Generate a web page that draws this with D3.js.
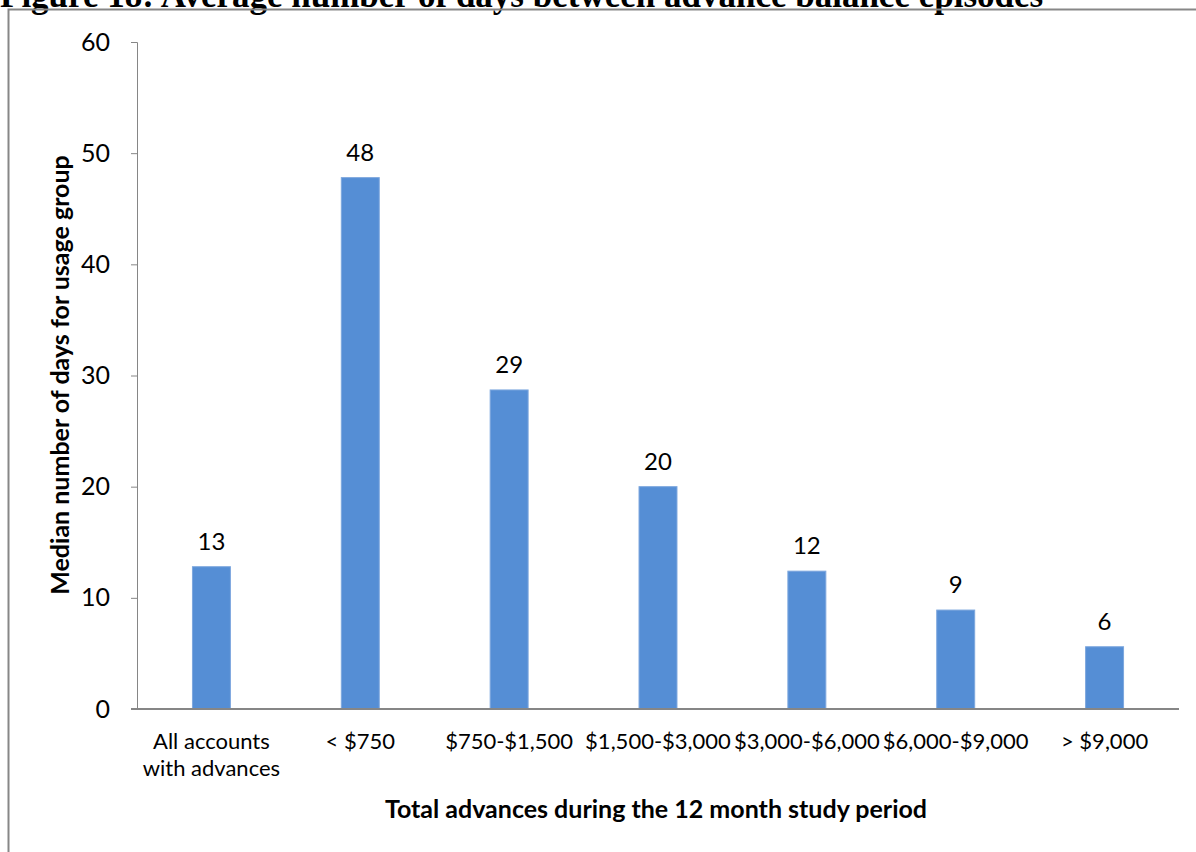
<!DOCTYPE html>
<html lang="en">
<head>
<meta charset="UTF-8">
<title>Figure 18</title>
<script src="https://d3js.org/d3.v7.min.js"></script>
<style>
    body { margin: 0; background: #fff; }
    svg { display: block; font-family: Lato, "Open Sans", sans-serif; }
    .axis path, .axis line { stroke: #868686; }
</style>
</head>
<body>
<svg id="chart" width="1196" height="852"></svg>
<script>
// data
const categories = [["All accounts", "with advances"], ["< $750"], ["$750-$1,500"], ["$1,500-$3,000"],
                    ["$3,000-$6,000"], ["$6,000-$9,000"], ["> $9,000"]];
const medianDays = [12.8, 47.8, 28.7, 20.0, 12.4, 8.9, 5.6];
const yTicks = [0, 10, 20, 30, 40, 50, 60];

const svg = d3.select("#chart");

// title, clipped by the top of the page (as in the source scan)
svg.append("text")
    .attr("x", 0).attr("y", 7)
    .style("font-family", "'Liberation Serif', serif")
    .style("font-weight", "bold").style("font-size", "35px")
    .text("Figure 18: Average number of days between advance balance episodes");

// outer frame
svg.append("path")
    .attr("d", "M8.5,852 V9.5 H1196")
    .attr("fill", "none").attr("stroke", "#878787").attr("stroke-width", 2);

const margin = { left: 137, top: 42, right: 1179, bottom: 709 };

const x = d3.scaleBand()
    .domain(d3.range(categories.length))
    .range([margin.left, margin.right])
    .paddingInner(0.745)
    .paddingOuter(0.3725);

const y = d3.scaleLinear()
    .domain([0, 60])
    .range([margin.bottom, margin.top]);

// y axis
const yAxis = svg.append("g").attr("class", "axis")
    .attr("transform", `translate(${margin.left},0)`)
    .call(d3.axisLeft(y).tickValues(yTicks).tickSize(6).tickSizeOuter(6).tickPadding(21));
yAxis.selectAll("text").style("font-size", "25px").attr("fill", "#000")
    .style("font-family", "Lato, sans-serif");

// bars
svg.selectAll(".bar")
    .data(medianDays)
    .join("rect")
    .attr("class", "bar")
    .attr("x", (d, i) => x(i))
    .attr("y", d => y(d))
    .attr("width", x.bandwidth())
    .attr("height", d => y(0) - y(d))
    .attr("fill", "#558ED5")
    .attr("stroke", "#7DA7DE").attr("stroke-width", 1);

// x axis line
svg.append("line")
    .attr("x1", margin.left - 6).attr("x2", margin.right)
    .attr("y1", y(0)).attr("y2", y(0))
    .attr("stroke", "#868686").attr("stroke-width", 2);

// value labels
svg.selectAll(".val")
    .data(medianDays)
    .join("text")
    .attr("class", "val")
    .attr("x", (d, i) => x(i) + x.bandwidth() / 2)
    .attr("y", d => y(d) - 17)
    .attr("text-anchor", "middle")
    .style("font-size", "24px")
    .text(d => d3.format(".0f")(d));

// category labels
svg.selectAll(".cat")
    .data(categories)
    .join("text")
    .attr("class", "cat")
    .attr("x", (d, i) => x(i) + x.bandwidth() / 2)
    .attr("y", 749)
    .attr("text-anchor", "middle")
    .style("font-size", "22px")
    .selectAll("tspan")
    .data(d => d)
    .join("tspan")
    .attr("x", function () { return d3.select(this.parentNode).attr("x"); })
    .attr("dy", (d, i) => i === 0 ? 0 : 27)
    .text(d => d);

// axis titles
svg.append("text")
    .attr("x", 656).attr("y", 818)
    .attr("text-anchor", "middle")
    .style("font-size", "25px").style("font-weight", "bold")
    .text("Total advances during the 12 month study period");

svg.append("text")
    .attr("transform", `translate(69,375) rotate(-90)`)
    .attr("text-anchor", "middle")
    .style("font-size", "25px").style("font-weight", "bold")
    .text("Median number of days for usage group");
</script>
</body>
</html>
